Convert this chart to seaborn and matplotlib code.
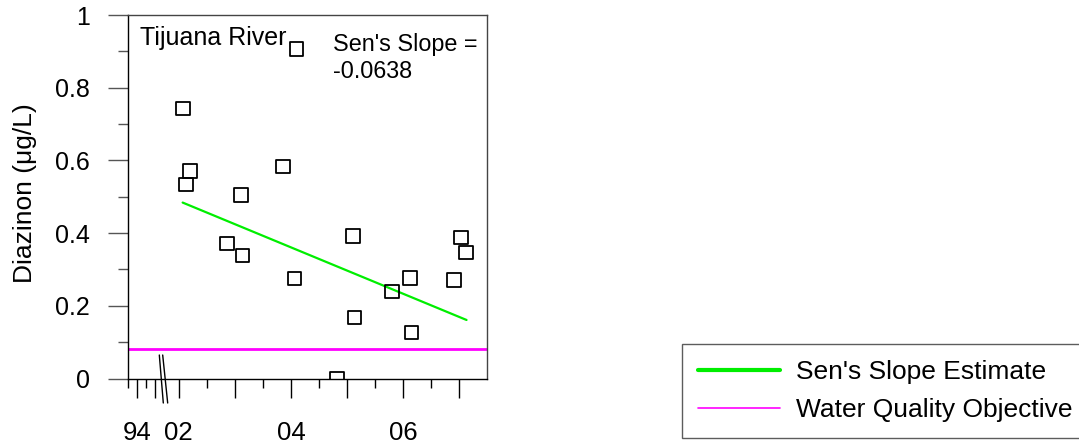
import numpy as np
import matplotlib
matplotlib.use("Agg")
import matplotlib.pyplot as plt
import seaborn as sns
from matplotlib.lines import Line2D
from matplotlib.ticker import FixedLocator, FixedFormatter

# ---------------- data ----------------
sample_year = [2004.10, 2002.08, 2002.20, 2002.13, 2003.86, 2003.11, 2002.86, 2003.14,
               2004.06, 2005.11, 2005.13, 2005.80, 2006.12, 2006.15, 2006.91, 2007.03,
               2007.12, 2004.82]
diazinon = [0.906, 0.743, 0.571, 0.534, 0.583, 0.505, 0.372, 0.338,
            0.275, 0.392, 0.168, 0.239, 0.277, 0.127, 0.271, 0.388,
            0.346, 0.0]
trend_year = [2002.07, 2007.13]
trend_value = [0.484, 0.161]
wqo_value = 0.08
site_name = "Tijuana River"
slope_text = "Sen's Slope =\n-0.0638"
major_years = [1994, 1995, 2002, 2003, 2004, 2005, 2006, 2007]
major_labels = ["94", "", "02", "", "04", "", "06", ""]
minor_years = [1993.5, 1994.5, 2002.5, 2003.5, 2004.5, 2005.5, 2006.5]
y_major = [0, 0.2, 0.4, 0.6, 0.8, 1.0]
y_major_labels = ["0", "0.2", "0.4", "0.6", "0.8", "1"]
y_minor = [0.1, 0.3, 0.5, 0.7, 0.9]

# ---------------- style ----------------
sns.set_theme(style="white")
plt.rcParams["font.family"] = ["Liberation Sans", "DejaVu Sans"]

W, H = 1079, 445
fig = plt.figure(figsize=(W / 100, H / 100), dpi=100)
ax_l, ax_r, ax_t, ax_b = 128.3, 487.3, 15.0, 378.5
ax = fig.add_axes([ax_l / W, (H - ax_b) / H, (ax_r - ax_l) / W, (ax_b - ax_t) / H])

# broken time axis: piecewise-linear scale
brk_years = np.array([1993.5, 1995.3, 2001.8, 2007.5])
brk_pos = np.array([128.3, 160.2, 167.5, 487.3])


def _lin(x, xs, ys):
    x = np.asarray(x, dtype=float)
    out = np.interp(x, xs, ys)
    s0 = (ys[1] - ys[0]) / (xs[1] - xs[0])
    s1 = (ys[-1] - ys[-2]) / (xs[-1] - xs[-2])
    out = np.where(x < xs[0], ys[0] + (x - xs[0]) * s0, out)
    out = np.where(x > xs[-1], ys[-1] + (x - xs[-1]) * s1, out)
    return out


def fwd(x):
    return _lin(x, brk_years, brk_pos)


def inv(p):
    return _lin(p, brk_pos, brk_years)


ax.set_xscale("function", functions=(fwd, inv))

# water quality objective
ax.axhline(wqo_value, color="#FF00FF", lw=2.0, zorder=2)
# Sen's slope line
sns.lineplot(x=trend_year, y=trend_value, ax=ax, color="#00EE00", lw=1.6, zorder=3)
# samples
sns.scatterplot(x=sample_year, y=diazinon, ax=ax, marker="s", s=95,
                facecolor="none", edgecolor="black", linewidth=1.3, zorder=4)
for c in ax.collections:
    c.set_facecolor("none")
    c.set_edgecolor("black")

ax.set_xlim(1993.5, 2007.5)
ax.set_ylim(0, 1)

# ticks
ax.xaxis.set_major_locator(FixedLocator(major_years))
ax.xaxis.set_major_formatter(FixedFormatter(major_labels))
ax.xaxis.set_minor_locator(FixedLocator(minor_years))
ax.yaxis.set_major_locator(FixedLocator(y_major))
ax.yaxis.set_major_formatter(FixedFormatter(y_major_labels))
ax.yaxis.set_minor_locator(FixedLocator(y_minor))
ax.tick_params(axis="x", which="major", direction="out", length=13.7, width=1.0,
               color="black", labelsize=18.5, pad=17, bottom=True)
ax.tick_params(axis="x", which="minor", direction="out", length=6.5, width=1.0,
               color="black", bottom=True)
ax.tick_params(axis="y", which="major", direction="out", length=14.4, width=1.0,
               color="#555555", labelsize=18, pad=13, left=True)
ax.tick_params(axis="y", which="minor", direction="out", length=7.2, width=1.0,
               color="#555555", left=True)
for lab in ax.get_xticklabels() + ax.get_yticklabels():
    lab.set_color("black")

for sp in ax.spines.values():
    sp.set_visible(True)
    sp.set_color("black")
    sp.set_linewidth(1.0)
ax.spines["top"].set_color("#444444")
ax.spines["right"].set_color("#444444")

ax.set_xlabel("")
ax.set_ylabel("Diazinon (\u03bcg/L)", fontsize=19, color="black")
ax.yaxis.set_label_coords(-0.254, 0.51)

# axis break marks
for x0, x1 in [(0.0864, 0.0975), (0.0958, 0.1097)]:
    ax.plot([x0, x1], [0.0646, -0.0674], transform=ax.transAxes, color="black",
            lw=1.0, clip_on=False, zorder=5)

# annotations
ax.text(0.0326, 0.917, site_name, transform=ax.transAxes, fontsize=18,
        ha="left", va="baseline", color="black")
ax.text(0.570, 0.826, slope_text, transform=ax.transAxes, fontsize=16.8,
        ha="left", va="baseline", color="black", linespacing=1.25)

# legend
handles = [Line2D([], [], color="#00EE00", lw=3.0),
           Line2D([], [], color="#FF00FF", lw=1.2)]
labels = ["Sen's Slope Estimate", "Water Quality Objective"]
leg = fig.legend(handles, labels, loc="upper left",
                 bbox_to_anchor=(682.3 / W, 1 - 344 / H), bbox_transform=fig.transFigure,
                 fontsize=19, frameon=True, fancybox=False, shadow=False,
                 borderpad=0.6, handlelength=3.1, handletextpad=0.6,
                 labelspacing=0.55, borderaxespad=0)
leg.get_frame().set_edgecolor("#333333")
leg.get_frame().set_linewidth(1.0)
for t in leg.get_texts():
    t.set_color("black")

fig.savefig("out.png", dpi=100, facecolor="white")
